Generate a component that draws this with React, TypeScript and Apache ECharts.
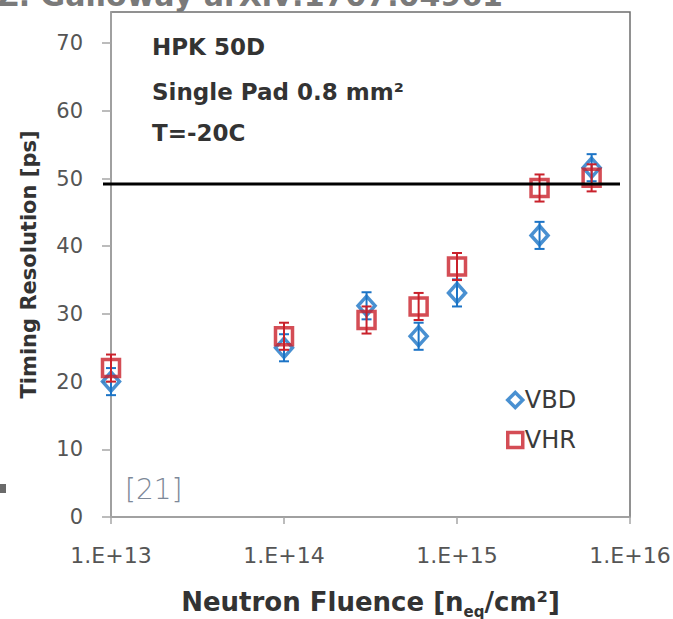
import React, { useEffect, useRef } from "react";
import * as echarts from "echarts";

const fluence = [1e13, 1e14, 3e14, 6e14, 1e15, 3e15, 6e15];
const vbdValues = [20, 25, 31.2, 26.7, 33.1, 41.6, 51.6];
const vbdErrors = [2, 2, 2, 2, 2, 2, 2];
const vhrValues = [22, 26.7, 29.1, 31.1, 37, 48.6, 50.1];
const vhrErrors = [2, 2, 2, 2, 2, 2, 2];
const yTicks = [0, 10, 20, 30, 40, 50, 60, 70];
const xTicks = [1e13, 1e14, 1e15, 1e16];
const thresholdValue = 49.2;
const annotationLines = ["HPK 50D", "Single Pad 0.8 mm²", "T=-20C"];

const BLUE = "#1c74c6";
const RED = "#c9212b";
const FONT = "'DejaVu Sans', sans-serif";

function errRender(color: string) {
  return (params: any, api: any) => {
    const x = api.value(0);
    const lo = api.coord([x, api.value(1)]);
    const hi = api.coord([x, api.value(2)]);
    const w = 5;
    const st = { stroke: color, lineWidth: 2 };
    return {
      type: "group",
      children: [
        { type: "line", shape: { x1: lo[0], y1: lo[1], x2: hi[0], y2: hi[1] }, style: st },
        { type: "line", shape: { x1: lo[0] - w, y1: lo[1], x2: lo[0] + w, y2: lo[1] }, style: st },
        { type: "line", shape: { x1: hi[0] - w, y1: hi[1], x2: hi[0] + w, y2: hi[1] }, style: st },
      ],
    };
  };
}

export default function App() {
  const ref = useRef<HTMLDivElement>(null);
  useEffect(() => {
    if (!ref.current) return;
    const chart = echarts.init(ref.current, undefined, { renderer: "svg" });
    const vbdPts = fluence.map((f, i) => [f, vbdValues[i]]);
    const vhrPts = fluence.map((f, i) => [f, vhrValues[i]]);
    const vbdErr = fluence.map((f, i) => [f, vbdValues[i] - vbdErrors[i], vbdValues[i] + vbdErrors[i]]);
    const vhrErr = fluence.map((f, i) => [f, vhrValues[i] - vhrErrors[i], vhrValues[i] + vhrErrors[i]]);

    chart.setOption({
      animation: false,
      backgroundColor: "#ffffff",
      grid: {
        left: 111,
        right: 43,
        top: 12,
        bottom: 102,
        containLabel: false,
        outerBoundsMode: "none",
        show: true,
        borderColor: "#6e6e6e",
        borderWidth: 1.5,
        backgroundColor: "transparent",
      },
      xAxis: {
        type: "log",
        logBase: 10,
        min: 1e13,
        max: 1e16,
        name: "{a|Neutron Fluence [n}{s|eq}{a|/cm²]}",
        nameLocation: "middle",
        nameGap: 72,
        nameTextStyle: {
          rich: {
            a: { fontFamily: FONT, fontWeight: "bold", fontSize: 26, lineHeight: 30, color: "#333", verticalAlign: "top" },
            s: { fontFamily: FONT, fontWeight: "bold", fontSize: 15, lineHeight: 15, color: "#333", verticalAlign: "bottom", padding: [19, 0, 0, 0] },
          },
        },
        axisLine: { show: true, lineStyle: { color: "#a6a6a6", width: 1.5 } },
        axisTick: { show: true, inside: false, length: 7, customValues: xTicks, lineStyle: { color: "#a6a6a6", width: 1.5 } },
        minorTick: { show: false },
        splitLine: { show: false },
        axisLabel: {
          margin: 27,
          fontFamily: FONT,
          fontSize: 22,
          color: "#555",
          customValues: xTicks,
          formatter: (v: number) => "1.E+" + Math.round(Math.log10(v)),
        },
      },
      yAxis: {
        type: "value",
        min: 0,
        max: 74.6,
        interval: 10,
        name: "Timing Resolution [ps]",
        nameLocation: "middle",
        nameGap: 72,
        nameTextStyle: { fontFamily: FONT, fontWeight: "bold", fontSize: 21, color: "#333" },
        axisLine: { show: true, lineStyle: { color: "#a6a6a6", width: 1.5 } },
        axisTick: { show: true, length: 9, customValues: yTicks, lineStyle: { color: "#a6a6a6", width: 1.5 } },
        splitLine: { show: false },
        axisLabel: {
          margin: 28,
          fontFamily: FONT,
          fontSize: 21,
          color: "#555",
          customValues: yTicks,
        },
      },
      legend: {
        orient: "vertical",
        left: 506,
        top: 388,
        padding: 0,
        itemGap: 16,
        itemWidth: 15,
        itemHeight: 15,
        textStyle: { fontFamily: FONT, fontSize: 24, color: "#3a3a3a", padding: [0, 0, 0, -3] },
        data: [
          { name: "VBD", icon: "diamond", itemStyle: { color: "#fff", borderColor: BLUE, borderWidth: 3.5 } },
          { name: "VHR", icon: "rect", itemStyle: { color: "#fff", borderColor: RED, borderWidth: 3.5 } },
        ],
      },
      series: [
        {
          type: "custom",
          name: "VBD err",
          renderItem: errRender(BLUE),
          data: vbdErr,
          z: 2,
          encode: { x: 0, y: [1, 2] },
        },
        {
          type: "scatter",
          name: "VBD",
          data: vbdPts,
          symbol: "diamond",
          symbolSize: [17, 19],
          itemStyle: { color: "rgba(255,255,255,0)", borderColor: BLUE, borderWidth: 3.5 },
          z: 3,
        },
        {
          type: "custom",
          name: "VHR err",
          renderItem: errRender(RED),
          data: vhrErr,
          z: 4,
          encode: { x: 0, y: [1, 2] },
        },
        {
          type: "scatter",
          name: "VHR",
          data: vhrPts,
          symbol: "rect",
          symbolSize: 17,
          itemStyle: { color: "rgba(255,255,255,0)", borderColor: RED, borderWidth: 3.5 },
          z: 5,
        },
      ],
    });

    const yLine = chart.convertToPixel({ yAxisIndex: 0 }, thresholdValue) as number;
    const xStart = (chart.convertToPixel({ xAxisIndex: 0 }, 1e13) as number) - 8;
    const xEnd = (chart.convertToPixel({ xAxisIndex: 0 }, 1e16) as number) - 10;

    chart.setOption({
      graphic: [
        {
          type: "line",
          shape: { x1: xStart, y1: yLine, x2: xEnd, y2: yLine },
          style: { stroke: "#000", lineWidth: 3 },
          z: 10,
        },
        {
          type: "text",
          style: {
            x: -3,
            y: 10,
            verticalAlign: "bottom",
            text: "Z. Galloway arXiv:1707.04961",
            fontFamily: FONT,
            fontWeight: "bold",
            fontSize: 30,
            fill: "#7a7a7a",
          },
        },
        ...annotationLines.map((t, i) => ({
          type: "text",
          style: {
            x: 152,
            y: [47, 92, 133][i],
            verticalAlign: "middle",
            text: t,
            fontFamily: FONT,
            fontWeight: "bold",
            fontSize: 23,
            fill: "#333",
          },
        })),
        {
          type: "text",
          style: {
            x: 125,
            y: 489,
            verticalAlign: "middle",
            text: "[21]",
            fontFamily: FONT,
            fontWeight: 300,
            fontSize: 28,
            fill: "#7d8898",
          },
        },
        {
          type: "rect",
          shape: { x: 0, y: 484, width: 6, height: 9 },
          style: { fill: "#6a6a6a" },
        },
      ],
    });

    return () => chart.dispose();
  }, []);
  return <div ref={ref} style={{ position: "fixed", left: 0, top: 0, width: 673, height: 619 }} />;
}
